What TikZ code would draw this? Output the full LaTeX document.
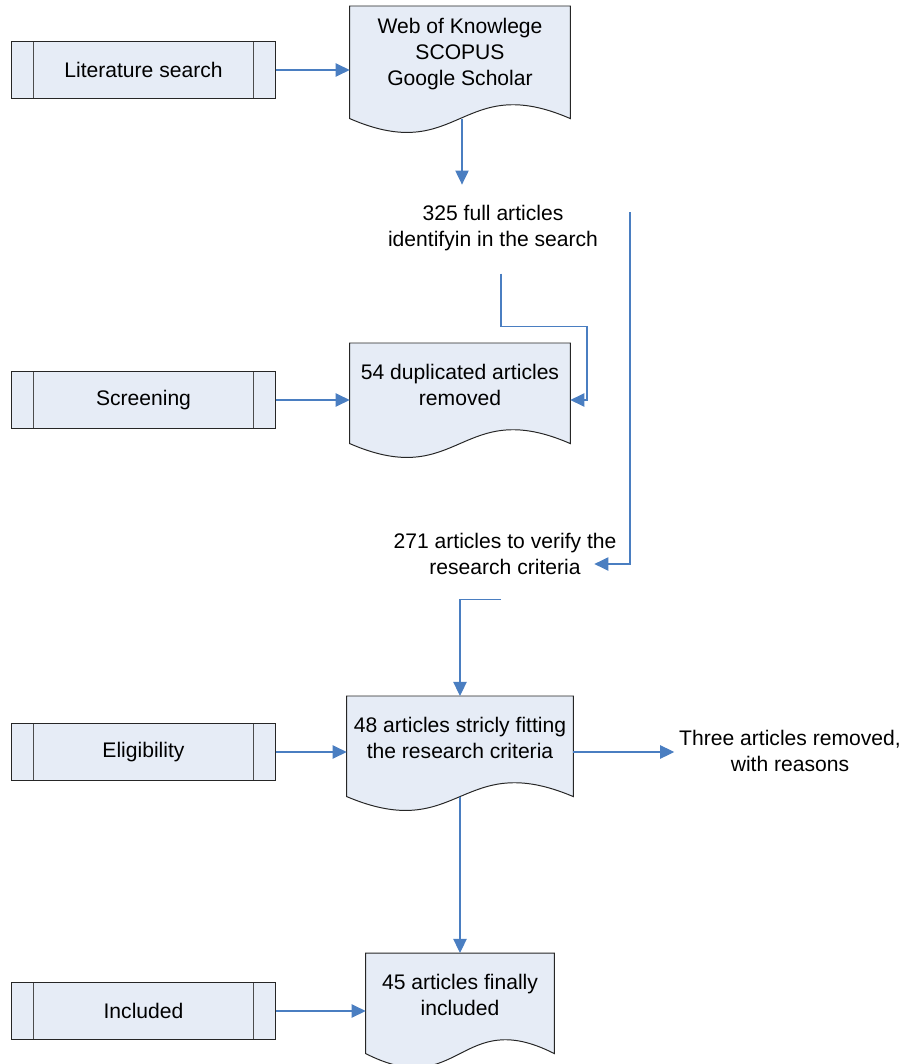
\documentclass[tikz,border=0pt]{standalone}
\usepackage{fontspec}
\setmainfont{Liberation Sans}
\usetikzlibrary{arrows.meta,calc,backgrounds}
\definecolor{boxfill}{RGB}{230,236,246}
\definecolor{flowblue}{RGB}{74,126,193}

\tikzset{
  procbox/.style={draw=black!85, line width=0.7pt, fill=boxfill, minimum width=6.575cm, minimum height=1.42cm, inner sep=0pt,
    path picture={\draw[black!70, line width=0.7pt]
      ([xshift=0.55cm]path picture bounding box.north west) -- ([xshift=0.55cm]path picture bounding box.south west)
      ([xshift=-0.55cm]path picture bounding box.north east) -- ([xshift=-0.55cm]path picture bounding box.south east);}},
  docbox/.style={anchor=north, minimum width=5.5cm, minimum height=2.1cm, align=center, inner sep=0pt},
  docshape/.style={draw=black!85, line width=0.7pt, fill=boxfill},
  flow/.style={draw=flowblue, line width=0.8pt, -{Triangle[length=10pt,width=9.5pt,fill=flowblue]}},
  note/.style={align=center}
}

\begin{document}
\begin{tikzpicture}[x=0.025cm, y=-0.025cm, font=\fontsize{15}{18.4}\selectfont]

    \useasboundingbox (0,0) rectangle (907,1064);

    % stages on the left
    \node[procbox] (lit) at (143.5,70) {Literature search};
    \node[procbox] (scr) at (143.5,400) {Screening};
    \node[procbox] (elig) at (143.5,752) {Eligibility};
    \node[procbox] (incl) at (143.5,1011) {Included};

    % documents in the middle
    \node[docbox, minimum height=2.4cm] (db) at (460,6) {Web of Knowlege\\SCOPUS\\Google Scholar};
    \node[docbox] (dup) at (460,343) {54 duplicated articles\\removed};
    \node[docbox, minimum width=5.65cm] (fit) at (460,696) {48 articles stricly fitting\\the research criteria};
    \node[docbox, minimum width=4.7cm] (fin) at (460,953) {45 articles finally\\included};

    % counts between the documents
    \node[note] (found) at (493,228) {325 full articles\\identifyin in the search};
    \node[note] (verify) at (505,554) {271 articles to verify the\\research criteria};
    \node[note] (removed) at (790,751) {Three articles removed,\\with reasons};
    \coordinate (top) at (630,212);

    % document outlines, wavy bottom
    \begin{scope}[on background layer]
    \draw[docshape] (db.north west) -- (db.north east) -- ($(db.south east)+(0,16)$) .. controls ($(db.south)+(0,-32)$) and ($(db.south)+(0,64)$) .. ($(db.south west)+(0,16)$) -- cycle;
    \draw[docshape] (dup.north west) -- (dup.north east) -- ($(dup.south east)+(0,16)$) .. controls ($(dup.south)+(0,-32)$) and ($(dup.south)+(0,64)$) .. ($(dup.south west)+(0,16)$) -- cycle;
    \draw[docshape] (fit.north west) -- (fit.north east) -- ($(fit.south east)+(0,16)$) .. controls ($(fit.south)+(0,-32)$) and ($(fit.south)+(0,64)$) .. ($(fit.south west)+(0,16)$) -- cycle;
    \draw[docshape] (fin.north west) -- (fin.north east) -- ($(fin.south east)+(0,16)$) .. controls ($(fin.south)+(0,-32)$) and ($(fin.south)+(0,64)$) .. ($(fin.south west)+(0,16)$) -- cycle;
    \end{scope}

    % stage arrows
    \draw[flow] (lit.east) -- (lit.east -| db.west);
    \draw[flow] (scr.east) -- (scr.east -| dup.west);
    \draw[flow] (elig.east) -- (elig.east -| fit.west);
    \draw[flow] (incl.east) -- (incl.east -| fin.west);

    % flow through the documents
    \draw[flow] ($(db.south)+(2,16)$) -- ++(0,66);
    \draw[flow] ($(found.south)+(8,18)$) -- ++(0,53) -- ++(86,0) |- (dup.east |- scr);
    \draw[flow] (top) |- ($(verify.east)+(-27,10)$);
    \draw[flow] ($(verify.south)+(-4,20)$) -| (fit.north);
    \draw[flow] (fit.east |- elig) -- (removed.west |- elig);
    \draw[flow] ($(fit.south)+(0,16)$) -- (fin.north);

\end{tikzpicture}
\end{document}
